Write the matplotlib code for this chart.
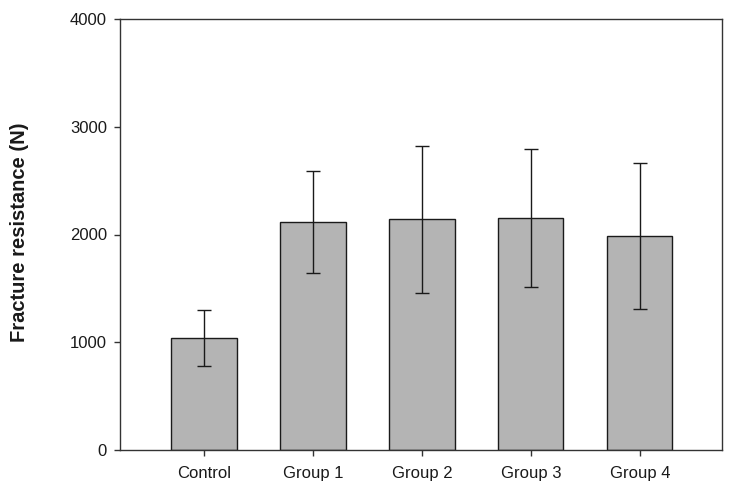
import matplotlib
matplotlib.use("Agg")
import matplotlib.pyplot as plt

categories = ["Control", "Group 1", "Group 2", "Group 3", "Group 4"]
means = [1038, 2116, 2140, 2153, 1990]
errors = [258, 475, 680, 638, 678]
y_ticks = [0, 1000, 2000, 3000, 4000]

plt.rcParams['font.family'] = ['Liberation Sans', 'DejaVu Sans']

W, H = 732, 495
fig = plt.figure(figsize=(W/100, H/100), dpi=100)
ax = fig.add_axes([120/W, 1-450/H, (721.5-120)/W, (450-19)/H])

x = list(range(len(categories)))
ax.bar(x, means, width=0.6, color='#b4b4b4', edgecolor='#1a1a1a', linewidth=1.0, zorder=2)
ax.errorbar(x, means, yerr=errors, fmt='none', ecolor='#1a1a1a', elinewidth=1.0,
            capsize=4.7, capthick=1.0, zorder=3)

ax.set_xlim(-0.77, 4.75)
ax.set_ylim(0, 4000)
ax.set_yticks(y_ticks)
ax.set_yticklabels([str(v) for v in y_ticks])
ax.set_xticks(x)
ax.set_xticklabels(categories)
ax.tick_params(axis='both', direction='out', length=4.3, width=1.0, color='#333333',
               labelsize=12, labelcolor='#1a1a1a')
ax.tick_params(axis='y', pad=5)
ax.tick_params(axis='x', pad=7)
for s in ax.spines.values():
    s.set_linewidth(1.0)
    s.set_color('#333333')

fig.text(20/W, 1-232.5/H, "Fracture resistance (N)", rotation=90, ha='center', va='center',
         fontsize=14.5, fontweight='bold', color='#1a1a1a')

fig.savefig("out.png", dpi=100)
